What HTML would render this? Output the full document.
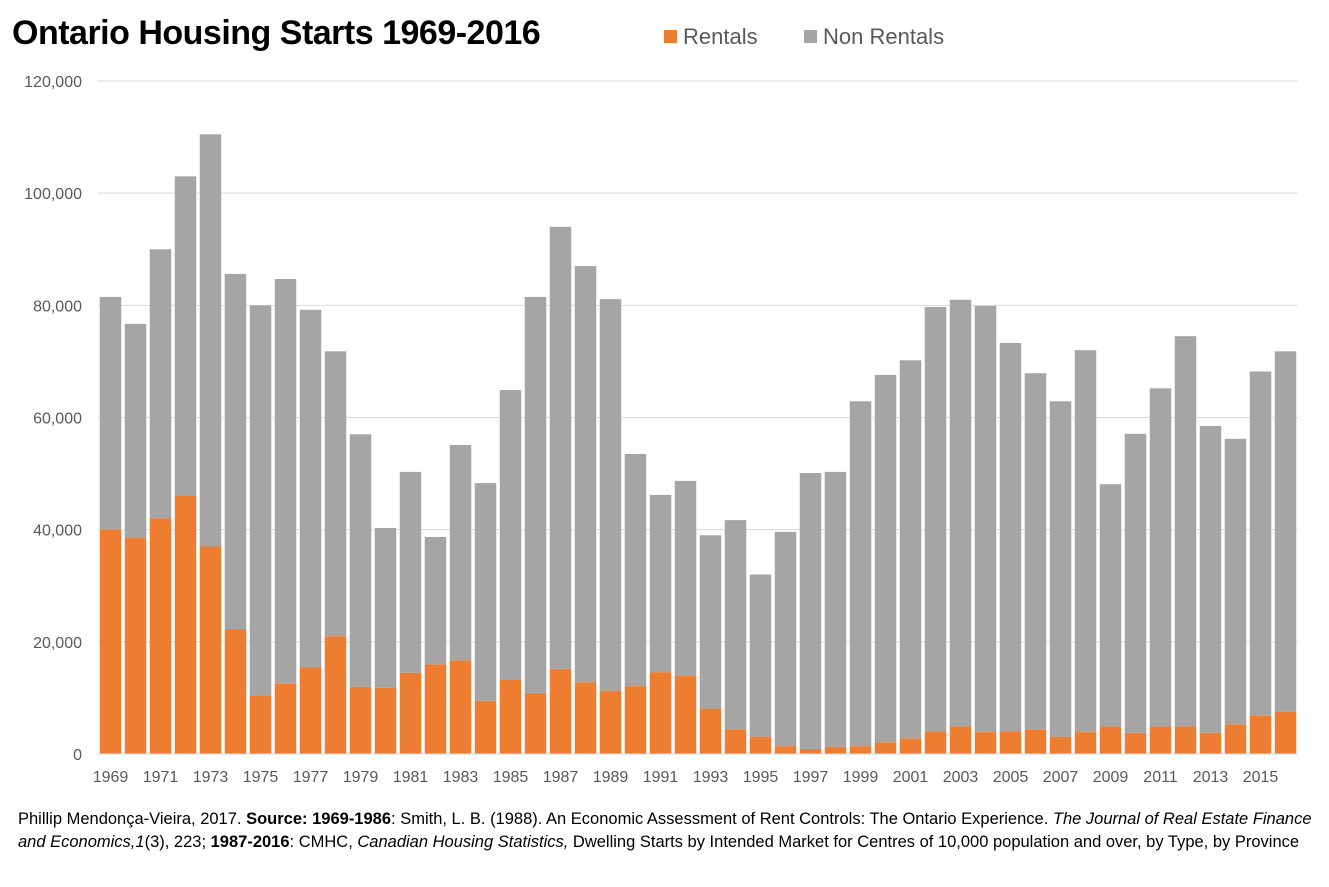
<!DOCTYPE html>
<html><head><meta charset="utf-8"><style>
body{margin:0;width:1329px;height:887px;background:#fff;font-family:"Liberation Sans",Arial,sans-serif;overflow:hidden}
#title{position:absolute;left:12px;top:14px;font-size:34px;font-weight:bold;color:#000;letter-spacing:-0.5px}
.leg{position:absolute;top:24px;font-size:22px;color:#595959}
.sw{display:inline-block;width:13px;height:13px;margin-right:6px;vertical-align:1px}
#foot{position:absolute;left:18px;top:808px;width:1300px;font-size:16.5px;line-height:23px;color:#000}
</style></head><body>
<div id="title">Ontario Housing Starts 1969-2016</div>
<div class="leg" style="left:664px"><span class="sw" style="background:#ed7d31"></span>Rentals</div>
<div class="leg" style="left:804px"><span class="sw" style="background:#a5a5a5"></span>Non Rentals</div>
<svg id="chart" width="1329" height="800" style="position:absolute;left:0;top:0"></svg>
<div id="foot">Phillip Mendonça-Vieira, 2017. <b>Source: 1969-1986</b>: Smith, L. B. (1988). An Economic Assessment of Rent Controls: The Ontario Experience. <i>The Journal of Real Estate Finance and Economics,1</i>(3), 223; <b>1987-2016</b>: CMHC, <i>Canadian Housing Statistics,</i> Dwelling Starts by Intended Market for Centres of 10,000 population and over, by Type, by Province</div>
<script>
const years=[];for(let y=1969;y<=2016;y++)years.push(y);
const rentals=[40000,38500,42000,46000,37000,22300,10500,12500,15500,21000,12000,11800,14500,16000,16700,9500,13200,10900,15200,12800,11300,12100,14600,13900,8100,4300,3100,1400,900,1300,1400,2100,2800,4000,4900,3900,4000,4300,3100,3900,4900,3800,4900,4900,3800,5300,6800,7500];
const nonRentals=[41500,38200,48000,57000,73500,63300,69500,72200,63700,50800,45000,28500,35800,22700,38400,38800,51700,70600,78800,74200,69800,41400,31600,34800,30900,37400,28900,38200,49200,49000,61500,65500,67400,75700,76100,76000,69300,63600,59800,68100,43200,53300,60300,69600,54700,50900,61400,64300];
const yTicks=[0,20000,40000,60000,80000,100000,120000];
const svg=document.getElementById('chart');const NS='http://www.w3.org/2000/svg';
const x0=98,x1=1298,y0=754,yTop=81,yMax=120000;
const ys=v=>y0-(v/yMax)*(y0-yTop);
const step=(x1-x0)/years.length;const xs=i=>x0+i*step;
function mk(t,a){const e=document.createElementNS(NS,t);for(const k in a)e.setAttribute(k,a[k]);svg.appendChild(e);return e;}
yTicks.forEach(v=>{
 const l=mk('line',{x1:x0,x2:x1,y1:ys(v),y2:ys(v),stroke:'#d9d9d9','stroke-width':1});
 
 
 const t=mk('text',{x:82,y:ys(v)+6,'text-anchor':'end','font-size':16,fill:'#595959','font-family':'Liberation Sans, sans-serif'});
 t.textContent=v.toLocaleString('en-US');
 
 
});
years.forEach((yr,i)=>{
 const bw=step*0.86,bx=xs(i)+(step-bw)/2;
 const r=mk('rect',{x:bx,y:ys(rentals[i]),width:bw,height:y0-ys(rentals[i]),fill:'#ed7d31'});
 
 
 const tot=rentals[i]+nonRentals[i];
 const n=mk('rect',{x:bx,y:ys(tot),width:bw,height:ys(rentals[i])-ys(tot),fill:'#a5a5a5'});
 
 
 if(i%2===0){
  const t=mk('text',{x:xs(i)+step/2,y:782,'text-anchor':'middle','font-size':16,fill:'#595959','font-family':'Liberation Sans, sans-serif'});
  t.textContent=yr;
  
  
 }
});
const ax=mk('line',{x1:x0,x2:x1,y1:y0,y2:y0,stroke:'#d9d9d9','stroke-width':1});


</script>
</body></html>
